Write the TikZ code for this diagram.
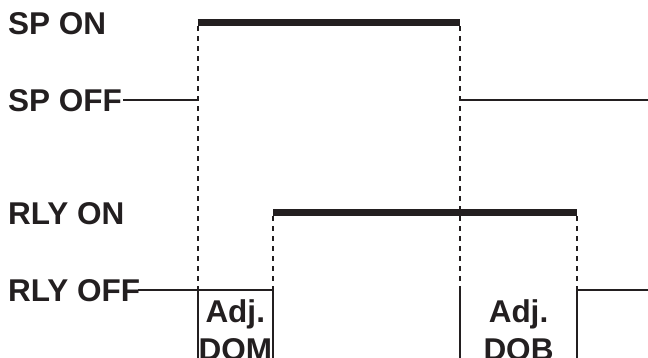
\documentclass[tikz,border=0pt]{standalone}
\usepackage{fontspec}
\setmainfont{Liberation Sans}
\usetikzlibrary{positioning, calc}
\definecolor{edgecol}{HTML}{231F20}
\tikzset{
    every node/.style={font=\fontsize{31.5}{38}\selectfont\bfseries, text=edgecol},
    lvl/.style={inner sep=0pt, anchor=base west},
    boxlbl/.style={inner sep=0pt, anchor=north, align=center},
    thin/.style={draw=edgecol, line width=2pt},
    active/.style={draw=edgecol, line width=7pt},
    guide/.style={draw=edgecol, line width=2pt, dash pattern=on 5pt off 5pt},
}

\begin{document}
\begin{tikzpicture}[x=1pt, y=1pt]
\useasboundingbox (0,0) rectangle (648,358);

% ── Level labels ───────────────────────────────────────────────────
\node[lvl] (spOn)   at (8,323) {SP ON};
\node[lvl] (spOff)  at (8,246) {SP OFF};
\node[lvl] (rlyOn)  at (8,133) {RLY ON};
\node[lvl] (rlyOff) at (8,56)  {RLY OFF};

% ── Switching instants ─────────────────────────────────────────────
\coordinate (spUp)    at (197.5,335);
\coordinate (spDown)  at (460,335);
\coordinate (rlyUp)   at (273,145);
\coordinate (rlyDown) at (577,145);
\coordinate (spEnd)   at (648,258);
\coordinate (rlyEnd)  at (648,68);
\coordinate (floor)   at (0,0);
\coordinate (spStart)  at ($(spOff.east)+(1,0)$);
\coordinate (rlyStart) at ($(rlyOff.east)+(-2,0)$);

% ── SP signal ──────────────────────────────────────────────────────
\draw[thin] (spStart |- spEnd) -- (spUp |- spEnd);
\draw[active] (spUp) -- (spDown);
\draw[thin] (spDown |- spEnd) -- (spEnd);

% ── RLY signal ─────────────────────────────────────────────────────
\draw[thin] (rlyStart |- rlyEnd) -- (rlyUp |- rlyEnd);
\draw[active] (rlyUp) -- (rlyDown);
\draw[thin] (rlyDown |- floor) -- (rlyDown |- rlyEnd) -- (rlyEnd);

% ── Dashed guides ──────────────────────────────────────────────────
\draw[guide] ($(spUp)+(0,-3.5)$) -- (spUp |- rlyEnd);
\draw[guide] ($(spDown)+(0,-3.5)$) -- (spDown |- rlyEnd);
\draw[guide] ($(rlyUp)+(0,-3.5)$) -- (rlyUp |- rlyEnd);
\draw[guide] ($(rlyDown)+(0,-3.5)$) -- (rlyDown |- rlyEnd);

% ── Delay windows ──────────────────────────────────────────────────
\draw[thin] (spUp |- rlyEnd) -- (spUp |- floor);
\draw[thin] (rlyUp |- rlyEnd) -- (rlyUp |- floor);
\draw[thin] (spDown |- rlyEnd) -- (spDown |- floor);

\node[boxlbl] (dom) at ($(spUp |- floor)!0.5!(rlyUp |- floor)+(0,59)$) {Adj.\\DOM};
\node[boxlbl] (dob) at ($(spDown |- floor)!0.5!(rlyDown |- floor)+(0,59)$) {Adj.\\DOB};

\end{tikzpicture}
\end{document}
